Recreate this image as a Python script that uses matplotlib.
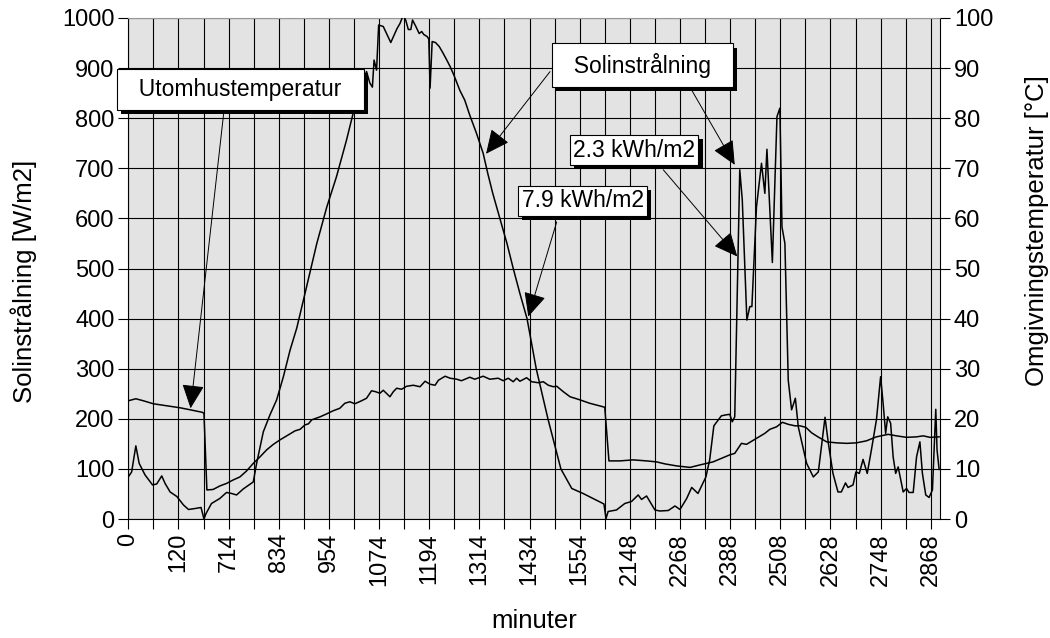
import numpy as np
import matplotlib
matplotlib.use("Agg")
import matplotlib.pyplot as plt
import matplotlib.patheffects as pe
from matplotlib.ticker import MultipleLocator, FixedLocator

plt.rcParams['font.family'] = ['Liberation Sans', 'DejaVu Sans']

# x values are positions along the (category) time axis, in minutes of chart
sol_t = [0, 8, 18, 26, 40, 58, 68, 80, 88, 100, 116, 132, 144, 160, 174, 181,
         186, 199, 219, 235, 247, 259, 275, 299, 307, 323, 339, 355, 371, 387,
         403, 419, 451, 475, 498, 522, 538, 554, 562, 570, 578, 584, 588, 594,
         599, 610, 618, 628, 636, 643, 650, 658, 664, 670, 676, 680, 688, 696,
         702, 707, 715, 719, 722, 727, 735, 744, 753, 762, 770, 779, 793, 805,
         817, 833, 849, 860, 872, 889, 906, 921, 937, 954, 976, 1004, 1035,
         1061, 1088, 1112, 1138, 1143, 1148, 1168, 1188, 1204, 1220, 1228, 1240,
         1260, 1272, 1292, 1308, 1320, 1336, 1348, 1363, 1382, 1391, 1401, 1419,
         1431, 1439, 1445, 1451, 1463, 1469, 1480, 1487, 1492, 1503, 1515, 1523,
         1528, 1541, 1552, 1559, 1564, 1571, 1579, 1587, 1596, 1603, 1623, 1639,
         1651, 1667, 1675, 1686, 1698, 1706, 1716, 1722, 1734, 1741, 1749, 1758,
         1768, 1778, 1790, 1800, 1806, 1812, 1817, 1824, 1830, 1836, 1842, 1854,
         1862, 1868, 1878, 1886, 1894, 1900, 1908, 1916, 1924, 1932, 1935, 1940]
sol_w = [84, 94, 146, 111, 88, 68, 70, 86, 71, 54, 45, 28, 19, 21, 23, 0,
         11, 31, 41, 53, 51, 48, 60, 74, 111, 174, 208, 238, 284, 337,
         381, 437, 550, 623, 683, 756, 810, 850, 876, 893, 870, 862, 916, 896,
         986, 983, 969, 951, 966, 979, 989, 1006, 995, 977, 977, 996, 983, 969,
         973, 967, 963, 958, 860, 953, 951, 943, 930, 916, 903, 886, 856, 836,
         806, 770, 730, 690, 650, 600, 550, 500, 450, 400, 300, 200, 100,
         61, 51, 41, 30, 1, 15, 18, 31, 35, 48, 39, 46,
         18, 16, 17, 26, 19, 41, 63, 51, 84, 118, 186, 206,
         208, 209, 194, 204, 697, 637, 397, 424, 424, 623, 710, 650,
         738, 512, 803, 820, 583, 550, 277, 218, 241, 184, 111, 84,
         94, 203, 151, 91, 54, 54, 72, 63, 68, 94, 91, 119,
         91, 138, 198, 284, 231, 171, 204, 191, 124, 91, 104, 54,
         61, 53, 53, 124, 154, 91, 48, 43, 58, 219, 138, 99]

temp_t = [0, 18, 36, 60, 92, 124, 148, 177, 181, 188, 203, 219, 235, 251, 267,
          283, 299, 315, 331, 347, 363, 379, 399, 411, 423, 431, 439, 459, 475,
          490, 506, 518, 530, 542, 558, 570, 582, 592, 602, 610, 626, 634, 642,
          654, 666, 682, 698, 710, 722, 734, 742, 758, 770, 786, 797, 817, 829,
          849, 865, 885, 897, 909, 921, 929, 937, 953, 965, 981, 993, 1005, 1017,
          1025, 1041, 1057, 1080, 1104, 1136, 1140, 1150, 1176, 1208, 1240, 1264,
          1284, 1312, 1344, 1368, 1399, 1439, 1451, 1467, 1479, 1503, 1523, 1535,
          1551, 1565, 1579, 1595, 1607, 1621, 1635, 1650, 1671, 1695, 1719, 1742,
          1766, 1790, 1818, 1838, 1862, 1886, 1902, 1918, 1940]
temp_c = [23.6, 24.0, 23.6, 23.0, 22.6, 22.2, 21.8, 21.3, 21.1, 5.8, 5.9, 6.6,
          7.1, 7.8, 8.4, 9.6, 11.1, 12.4, 13.8, 14.9, 15.8, 16.6, 17.6, 17.9,
          18.8, 19.0, 19.8, 20.4, 21.0, 21.6, 22.1, 23.1, 23.4, 23.0, 23.6, 24.1,
          25.6, 25.4, 25.1, 25.7, 24.4, 25.4, 26.1, 25.9, 26.5, 26.7, 26.4, 27.5,
          26.9, 26.7, 27.7, 28.5, 28.1, 27.9, 27.6, 28.3, 27.9, 28.5, 27.9, 28.1,
          27.6, 28.1, 27.4, 28.1, 27.5, 28.2, 27.4, 27.2, 27.4, 26.7, 26.4, 26.5,
          25.4, 24.4, 23.8, 23.1, 22.4, 22.3, 11.6, 11.6, 11.8, 11.6, 11.4, 11.0,
          10.6, 10.3, 10.8, 11.4, 12.8, 13.1, 15.1, 14.9, 16.1, 17.1, 17.9, 18.4,
          19.3, 18.9, 18.6, 18.6, 18.3, 17.2, 16.4, 15.4, 15.2, 15.1, 15.2, 15.6,
          16.4, 16.9, 16.6, 16.3, 16.4, 16.6, 16.3, 16.4]

tick_labels = ['0', '120', '714', '834', '954', '1074', '1194', '1314', '1434',
               '1554', '2148', '2268', '2388', '2508', '2628', '2748', '2868']

fig = plt.figure(figsize=(10.5, 6.38), dpi=100)
ax = fig.add_axes([0.1222, 0.1865, 0.8952 - 0.1222, 0.9718 - 0.1865])
ax.set_facecolor('#e3e3e3')

ax.plot(sol_t, sol_w, color='black', lw=1.1, zorder=3)
ax.set_xlim(0, 1942)
ax.set_ylim(0, 1000)
ax.yaxis.set_major_locator(MultipleLocator(100))
ax.xaxis.set_major_locator(FixedLocator([i * 120 for i in range(len(tick_labels))]))
ax.xaxis.set_minor_locator(FixedLocator([60 + i * 120 for i in range(len(tick_labels))]))
ax.set_xticklabels(tick_labels, rotation=90)
ax.grid(True, which='both', color='black', lw=0.8)
ax.set_axisbelow(True)
ax.tick_params(axis='both', which='both', direction='out', length=7, width=0.8,
               labelsize=17, pad=3)
ax.set_xlabel('minuter', fontsize=18.5, labelpad=17)
ax.set_ylabel('Solinstrålning [W/m2]', fontsize=18.5, labelpad=18)
ax.yaxis.label.set_y(0.475)
for s in ax.spines.values():
    s.set_linewidth(0.8)
ax.spines['top'].set_color('#999999')

ax2 = ax.twinx()
ax2.plot(temp_t, temp_c, color='black', lw=1.1, zorder=3)
ax2.set_ylim(0, 100)
ax2.yaxis.set_major_locator(MultipleLocator(10))
ax2.tick_params(axis='y', direction='out', length=7, width=0.8, labelsize=17, pad=3)
ax2.set_ylabel('Omgivningstemperatur [°C]', fontsize=18.5, labelpad=23)
ax2.yaxis.label.set_y(0.575)
for s in ax2.spines.values():
    s.set_visible(False)

arrow_kw = dict(arrowstyle='-|>,head_length=0.75,head_width=0.35', color='black',
                lw=0.7, shrinkA=0, shrinkB=0, mutation_scale=20)

# arrows (start, tip) in left-axis data coordinates
arrows = [((229, 816), (149, 221)),
          ((1009, 893), (856, 729)),
          ((1348, 856), (1451, 707)),
          ((1280, 697), (1457, 524)),
          ((1025, 593), (957, 404))]
for start, tip in arrows:
    ax2.annotate('', xy=tip, xytext=start, xycoords=ax.transData,
                 textcoords=ax.transData, arrowprops=arrow_kw, zorder=5)

shadow = [pe.SimplePatchShadow(offset=(3, -3), shadow_rgbFace='black', alpha=1),
          pe.Normal()]
boxes = [('  Utomhustemperatur  ', 268, 857, 0.4),
         ('  Solinstrålning  ', 1230, 906, 0.4),
         ('2.3 kWh/m2', 1210, 736, 0.15),
         ('7.9 kWh/m2', 1087, 635, 0.15)]
for label, bx, by, pad in boxes:
    t = ax2.text(bx, by, label, transform=ax.transData, ha='center', va='center',
                 fontsize=16.5, zorder=6,
                 bbox=dict(boxstyle='square,pad=%s' % pad, fc='white',
                           ec='black', lw=0.8))
    t.get_bbox_patch().set_path_effects(shadow)

fig.savefig('out.png', dpi=100)
